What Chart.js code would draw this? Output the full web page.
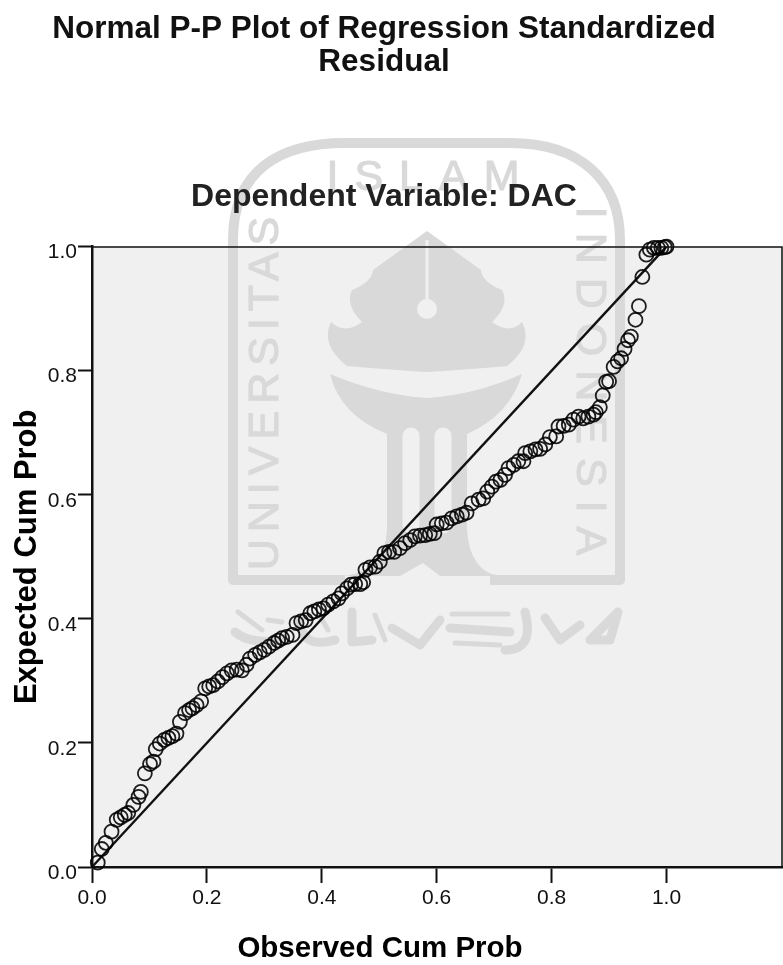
<!DOCTYPE html>
<html><head><meta charset="utf-8">
<style>html,body{margin:0;padding:0;background:#fff}canvas{display:block}</style>
<script src="https://cdn.jsdelivr.net/npm/chart.js@4/dist/chart.umd.min.js"></script>
</head><body><canvas id="c" width="783" height="965"></canvas>
<script>
const titleLines = ["Normal P-P Plot of Regression Standardized", "Residual"];
const subtitleText = "Dependent Variable: DAC";
const xTitle = "Observed Cum Prob";
const yTitle = "Expected Cum Prob";
const tickValues = [0, 0.2, 0.4, 0.6, 0.8, 1.0];
const referenceX = [0, 1];
const referenceY = [0, 1];
const observedCum = [.010,.017,.024,.034,.043,.050,.057,.063,.072,.081,.085,.092,.101,.107,.111,.118,.126,.133,.140,.147,.153,.162,.169,.175,.182,.190,
.197,.204,.211,.219,.227,.235,.243,.252,.261,.269,.275,.284,.292,.300,.308,.317,.324,.331,.339,.349,.356,.364,.372,.380,.387,.395,.403,.411,.420,.429,
.435,.444,.451,.458,.467,.472,.476,.484,.493,.501,.509,.517,.526,.536,.545,.554,.562,.571,.580,.588,.596,.600,.609,.617,.626,.635,.644,.652,
.661,.673,.681,.688,.696,.703,.711,.719,.725,.734,.742,.751,.754,.763,.772,.780,.789,.797,.808,.812,.821,.830,.838,.847,.855,.864,.873,.877,.884,
.889,.895,.900,.908,.915,.921,.927,.933,.938,.946,.952,.958,.965,.971,.978,.985,.991,.997,1.0];
const expectedCum = [.007,.029,.039,.057,.076,.080,.084,.087,.100,.113,.121,.151,.166,.170,.190,.199,.205,.208,.211,.215,.234,.248,.253,.256,.261,.267,
.288,.291,.293,.299,.306,.312,.317,.318,.317,.326,.336,.342,.346,.350,.355,.361,.365,.369,.371,.374,.393,.396,.398,.409,.412,.415,.417,.423,.428,.433,
.441,.449,.455,.456,.456,.459,.479,.483,.484,.492,.506,.508,.508,.514,.522,.527,.533,.534,.535,.537,.538,.552,.554,.555,.562,.565,.568,.571,
.586,.592,.594,.605,.613,.621,.624,.632,.643,.648,.654,.654,.667,.670,.673,.674,.681,.693,.694,.710,.711,.713,.721,.726,.723,.726,.729,.733,.741,
.760,.782,.783,.806,.815,.820,.835,.849,.855,.882,.904,.951,.987,.995,.998,.998,.998,.999,1.0];

const toPoints = (xs, ys) => xs.map((x, i) => ({x, y: ys[i]}));
const WM = "#d9d9d9";

function drawWatermark(ctx) {
  ctx.save();
  ctx.strokeStyle = WM; ctx.fillStyle = WM; ctx.lineJoin = "round"; ctx.lineCap = "butt";
  // outer band
  ctx.lineWidth = 10;
  ctx.beginPath();
  ctx.moveTo(345, 580); ctx.lineTo(233, 580); ctx.lineTo(233, 240);
  ctx.bezierCurveTo(233, 170, 280, 143, 345, 143);
  ctx.lineTo(510, 143);
  ctx.bezierCurveTo(580, 143, 620, 180, 620, 240);
  ctx.lineTo(620, 580); ctx.lineTo(490, 580);
  ctx.stroke();
  // letters
  ctx.font = "43px 'Liberation Sans'"; ctx.textBaseline = "alphabetic"; ctx.lineWidth = 1.2;
  const put = (t, x, y, rot, sp) => {
    ctx.save(); ctx.translate(x, y); ctx.rotate(rot); ctx.letterSpacing = sp + "px"; ctx.textAlign = "center";
    ctx.fillText(t, 0, 0); ctx.strokeText(t, 0, 0); ctx.restore();
  };
  put("UNIVERSITAS", 278, 390, -Math.PI / 2, 7);
  put("INDONESIA", 577, 388, Math.PI / 2, 14);
  put("ISLAM", 431, 190, 0, 16);
  // pen head
  ctx.beginPath();
  ctx.moveTo(427, 231);
  ctx.lineTo(373, 270);
  ctx.quadraticCurveTo(372, 282, 352, 290);
  ctx.quadraticCurveTo(345, 305, 362, 322);
  ctx.quadraticCurveTo(345, 335, 331, 322);
  ctx.quadraticCurveTo(320, 345, 347, 366);
  ctx.quadraticCurveTo(395, 370, 427, 372);
  ctx.quadraticCurveTo(460, 370, 507, 366);
  ctx.quadraticCurveTo(534, 345, 522, 322);
  ctx.quadraticCurveTo(510, 335, 492, 322);
  ctx.quadraticCurveTo(510, 305, 502, 290);
  ctx.quadraticCurveTo(482, 282, 481, 270);
  ctx.closePath(); ctx.fill();
  // lower wing and pillars
  ctx.beginPath();
  ctx.moveTo(330, 374);
  ctx.quadraticCurveTo(380, 395, 427, 398);
  ctx.quadraticCurveTo(475, 395, 522, 374);
  ctx.quadraticCurveTo(510, 415, 467, 434);
  ctx.lineTo(467, 530);
  ctx.quadraticCurveTo(470, 572, 500, 576);
  ctx.lineTo(440, 576); ctx.lineTo(423, 563); ctx.lineTo(400, 576); ctx.lineTo(345, 576);
  ctx.quadraticCurveTo(385, 570, 387, 530);
  ctx.lineTo(387, 434);
  ctx.quadraticCurveTo(340, 415, 330, 374);
  ctx.closePath(); ctx.fill();
  // white details
  const bg = "#f0f0f0";
  ctx.fillStyle = bg; ctx.strokeStyle = bg;
  ctx.lineWidth = 3; ctx.beginPath(); ctx.moveTo(427, 240); ctx.lineTo(427, 300); ctx.stroke();
  ctx.beginPath(); ctx.arc(427, 309, 10, 0, Math.PI * 2); ctx.fill();
  ctx.lineWidth = 17;ctx.lineCap = "round";
  ctx.beginPath(); ctx.moveTo(411, 436); ctx.lineTo(411, 525); ctx.stroke();
  ctx.beginPath(); ctx.moveTo(443, 436); ctx.lineTo(443, 525); ctx.stroke();
  // calligraphy band
  ctx.strokeStyle = WM; ctx.lineCap = "round";
  ctx.lineWidth = 9;
  ctx.beginPath();
  ctx.moveTo(235, 632); ctx.quadraticCurveTo(250, 645, 285, 640);
  ctx.moveTo(300, 618); ctx.quadraticCurveTo(300, 650, 335, 640);
  ctx.moveTo(352, 612); ctx.lineTo(352, 642); ctx.lineTo(372, 640);
  ctx.moveTo(392, 628); ctx.lineTo(420, 645); ctx.lineTo(440, 620);
  ctx.moveTo(450, 628); ctx.lineTo(510, 632);
  ctx.moveTo(525, 612); ctx.quadraticCurveTo(535, 650, 505, 650);
  ctx.moveTo(545, 618); ctx.lineTo(560, 640); ctx.lineTo(580, 625);
  ctx.moveTo(590, 640); ctx.lineTo(618, 612); ctx.lineTo(610, 640); ctx.lineTo(590, 640);
  ctx.stroke();
  ctx.lineWidth = 5;
  ctx.beginPath();
  ctx.moveTo(238, 612); ctx.lineTo(262, 630);
  ctx.moveTo(268, 620); ctx.lineTo(282, 622);
  ctx.moveTo(320, 616); ctx.lineTo(328, 630);
  ctx.moveTo(375, 615); ctx.lineTo(385, 640);
  ctx.moveTo(452, 614); ctx.lineTo(508, 614);
  ctx.moveTo(455, 643); ctx.lineTo(500, 645);
  ctx.stroke();
  ctx.restore();
}

const frame = {
  id: "frame",
  afterLayout(chart) {
    chart.boxes.filter(b => b.position === "top").forEach(b => { b.left = -15; });
    const xs = chart.scales.x;
    if (!xs._titleWrapped) {
      const orig = xs.drawTitle;
      xs.drawTitle = function () {
        const r = this.right;
        this.right = 2 * 380 - this.left;
        orig.call(this);
        this.right = r;
      };
      xs._titleWrapped = true;
    }
  },
  beforeDraw(chart) {
    const {ctx, chartArea: a} = chart;
    ctx.save();
    ctx.fillStyle = "#fff"; ctx.fillRect(0, 0, chart.width, chart.height);
    ctx.fillStyle = "#f0f0f0"; ctx.fillRect(a.left, a.top, a.right - a.left, a.bottom - a.top);
    ctx.restore();
    drawWatermark(ctx);
  },
  afterDatasetsDraw(chart) {
    const {ctx, chartArea: a} = chart;
    ctx.save();
    ctx.strokeStyle = "#111"; ctx.lineWidth = 1.5;
    ctx.beginPath();
    ctx.moveTo(a.left, a.top + 0.5); ctx.lineTo(a.right - 1, a.top + 0.5); ctx.lineTo(a.right - 1, a.bottom);
    ctx.stroke();
    ctx.restore();
  }
};

const setTicks = s => { s.ticks = tickValues.map(value => ({value})); };
const FONT = "'Liberation Sans', Arial, sans-serif";

new Chart(document.getElementById("c"), {
  type: "scatter",
  data: { datasets: [
    { label: "Reference", data: toPoints(referenceX, referenceY), showLine: true, borderColor: "#111", borderWidth: 2.4, pointRadius: 0, clip: false, order: 2 },
    { label: "Residual", data: toPoints(observedCum, expectedCum), showLine: false, pointStyle: "circle", pointRadius: 7, pointBorderWidth: 1.8, pointBorderColor: "rgba(0,0,0,0.88)", pointBackgroundColor: "rgba(0,0,0,0)", clip: false, order: 1 }
  ]},
  plugins: [frame],
  options: {
    responsive: false, animation: false, events: [],
    layout: { padding: 0, autoPadding: false },
    plugins: {
      legend: { display: false }, tooltip: { enabled: false },
      title: { display: true, text: titleLines, color: "#111", font: { family: FONT, size: 31.5, weight: "bold", lineHeight: 1.05 }, padding: { top: 13, bottom: 101.5 } },
      subtitle: { display: true, text: subtitleText, color: "#222", font: { family: FONT, size: 32, weight: "bold", lineHeight: 1.06 }, padding: { top: 0, bottom: 32 } }
    },
    scales: {
      x: {
        type: "linear", min: 0, max: 1.2028,
        afterBuildTicks: setTicks,
        afterFit(s) { s.height = 98; s.paddingLeft = 0; s.paddingRight = 0; },
        grid: { drawOnChartArea: false, drawTicks: true, tickLength: 16, tickWidth: 2, tickColor: "#111" },
        border: { display: true, color: "#111", width: 2.5 },
        ticks: { color: "#111", font: { family: FONT, size: 21 }, padding: 3, maxRotation: 0, autoSkip: false, callback: v => v.toFixed(1) },
        title: { display: true, text: xTitle, color: "#000", font: { family: FONT, size: 29.5, weight: "bold", lineHeight: 1.1 }, padding: { top: 0, bottom: 0 } }
      },
      y: {
        type: "linear", min: 0, max: 1,
        afterBuildTicks: setTicks,
        afterFit(s) { s.width = 92; s.paddingTop = 0; s.paddingBottom = 0; },
        grid: { drawOnChartArea: false, drawTicks: true, tickLength: 14, tickWidth: 2, tickColor: "#111" },
        border: { display: true, color: "#111", width: 2.5 },
        ticks: { color: "#111", font: { family: FONT, size: 21 }, padding: 1, labelOffset: 6, autoSkip: false, callback: v => v.toFixed(1) },
        title: { display: true, text: yTitle, color: "#000", font: { family: FONT, size: 31, weight: "bold", lineHeight: 1.2 }, padding: { top: 9, bottom: 0 } }
      }
    }
  }
});
</script></body></html>
